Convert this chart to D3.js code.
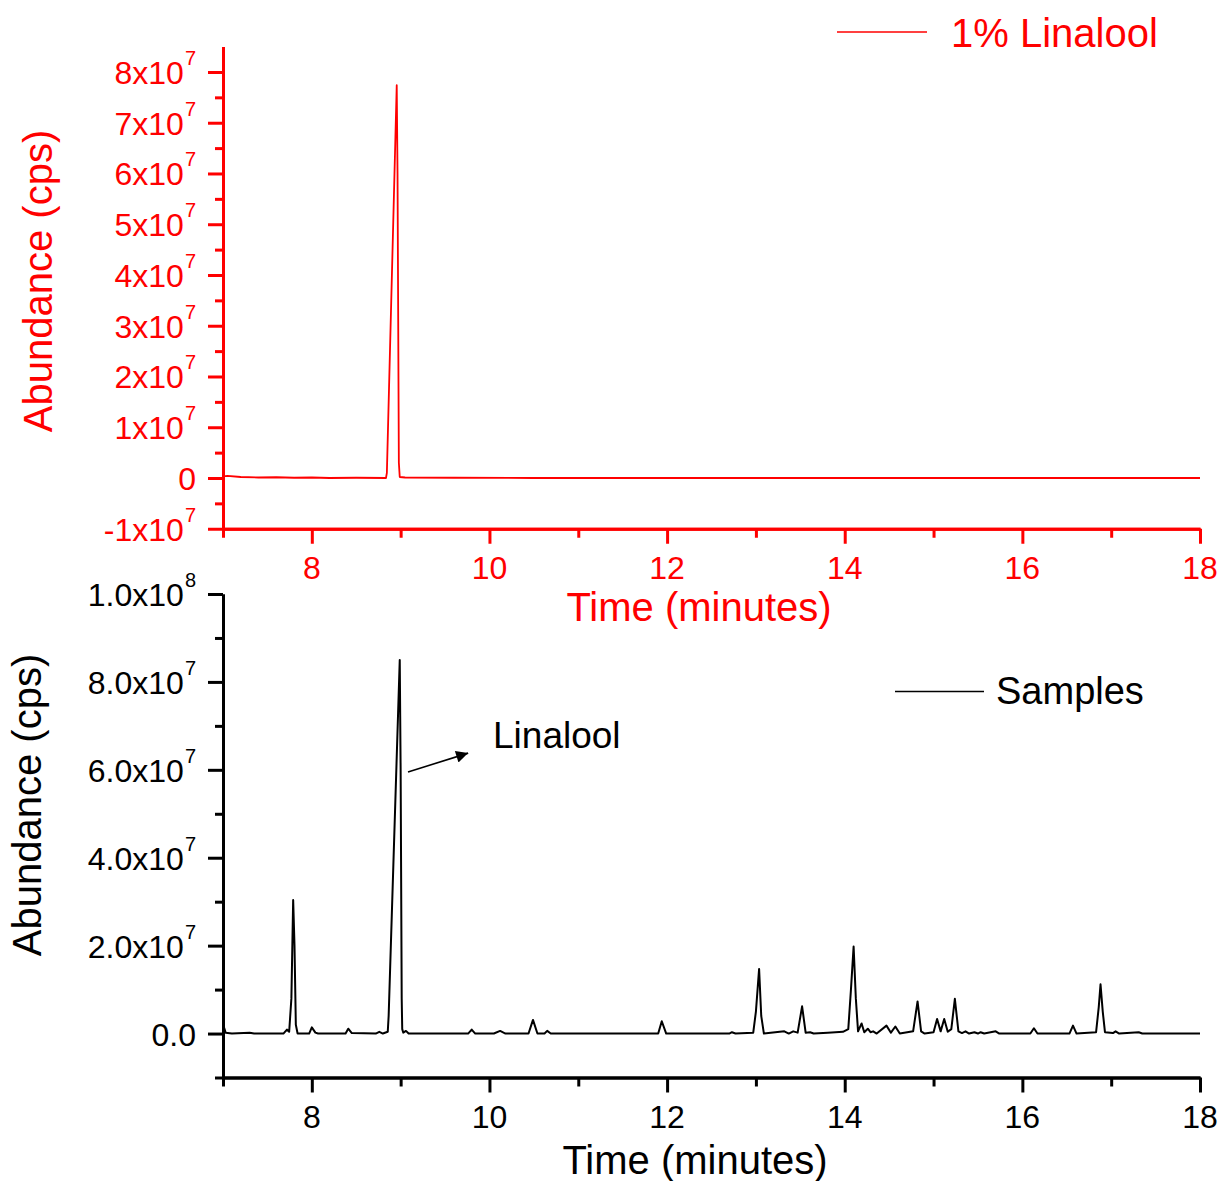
<!DOCTYPE html>
<html><head><meta charset="utf-8">
<script src="https://cdn.jsdelivr.net/npm/d3@7"></script>
<style>body{margin:0;background:#fff}</style>
</head><body><svg id="c" width="1230" height="1181"></svg>
<script>
// ---------- DATA ----------
const timeMajorTicks = [8, 10, 12, 14, 16, 18];
const timeMinorTicks = [7, 9, 11, 13, 15, 17];

// 1% Linalool standard (red, top)
const stdTime  = [7.0, 7.05, 7.2, 7.4, 7.6, 7.8, 8.0, 8.2, 8.5, 8.835, 8.845, 8.956, 8.965, 8.98, 8.99, 9.05, 9.6, 10.5, 12, 13, 14, 16, 18];
const stdAbund = [0.3e6, 0.4e6, 0.2e6, 0.1e6, 0.15e6, 0.05e6, 0.1e6, 0.0, 0.05e6, 0.0, 1.0e6, 7.74e7, 6.0e7, 3.0e6, 0.2e6, 0.1e6, 0.05e6, 0, 0, 0, 0, 0, 0];

// Samples (black, bottom)
const smpTime  = [7.0, 7.01, 7.03, 7.1, 7.3, 7.35, 7.68, 7.72, 7.745, 7.77, 7.79, 7.805, 7.82, 7.84,
  7.97, 8.0, 8.04, 8.07, 8.38, 8.41, 8.45, 8.72, 8.76, 8.80, 8.855, 8.865, 8.99, 9.0, 9.012, 9.018, 9.03, 9.06, 9.09,
  9.76, 9.80, 9.84, 10.05, 10.12, 10.18, 10.44, 10.49, 10.54, 10.62, 10.65, 10.69,
  11.9, 11.94, 11.99, 12.70, 12.73, 12.77, 12.97, 13.0, 13.036, 13.06, 13.09,
  13.32, 13.37, 13.42, 13.47, 13.52, 13.56, 13.61, 13.65, 13.81, 13.98, 14.04, 14.07, 14.10, 14.125, 14.15,
  14.19, 14.22, 14.26, 14.29, 14.32, 14.36, 14.47, 14.52, 14.57, 14.62, 14.77, 14.82, 14.86, 14.9,
  15.0, 15.04, 15.08, 15.12, 15.16, 15.2, 15.24, 15.28, 15.32, 15.36, 15.4, 15.46, 15.5, 15.53, 15.57,
  15.70, 15.74, 16.09, 16.13, 16.17, 16.53, 16.57, 16.61, 16.83, 16.86, 16.88, 16.905, 16.93,
  17.02, 17.05, 17.09, 17.31, 17.35, 18.0];
const smpAbund = [3.0e6, 1.5e6, 0.2e6, 0.0, 0.2e6, 0.0, 0.0, 0.9e6, 0.4e6, 8e6, 30.4e6, 20e6, 2e6, 0.0,
  0.0, 1.4e6, 0.2e6, 0.0, 0.0, 1.1e6, 0.1e6, 0.0, 0.4e6, 0.0, 0.4e6, 4e6, 85e6, 60e6, 8e6, 1e6, 0.2e6, 0.6e6, 0.0,
  0.0, 0.9e6, 0.0, 0.0, 0.6e6, 0.0, 0.0, 3.1e6, 0.0, 0.0, 0.6e6, 0.0,
  0.0, 2.8e6, 0.0, 0.0, 0.3e6, 0.0, 0.2e6, 5e6, 14.7e6, 4e6, 0.0,
  0.5e6, 0.0, 0.5e6, 0.2e6, 6.2e6, 0.2e6, 0.3e6, 0.0, 0.2e6, 0.4e6, 1e6, 10e6, 19.8e6, 8e6, 0.5e6,
  2.3e6, 0.3e6, 1.1e6, 0.3e6, 0.5e6, 0.0, 1.8e6, 0.2e6, 1.6e6, 0.0, 0.5e6, 7.3e6, 0.5e6, 0.0,
  0.3e6, 3.3e6, 0.5e6, 3.3e6, 0.4e6, 1e6, 7.9e6, 0.5e6, 0.1e6, 0.5e6, 0.0, 0.3e6, 0.0, 0.3e6, 0.0,
  0.5e6, 0.0, 0.0, 1.2e6, 0.0, 0.0, 1.8e6, 0.0, 0.3e6, 6e6, 11.2e6, 5e6, 0.3e6,
  0.1e6, 0.5e6, 0.0, 0.3e6, 0.0, 0.0];

const stdYMajor = [-1e7, 0, 1e7, 2e7, 3e7, 4e7, 5e7, 6e7, 7e7, 8e7];
const stdYMinor = [-5e6, 5e6, 1.5e7, 2.5e7, 3.5e7, 4.5e7, 5.5e7, 6.5e7, 7.5e7];
const stdYLabelBase = ["-1x10", "0", "1x10", "2x10", "3x10", "4x10", "5x10", "6x10", "7x10", "8x10"];
const stdYLabelExp  = ["7", "", "7", "7", "7", "7", "7", "7", "7", "7"];

const smpYMajor = [0, 2e7, 4e7, 6e7, 8e7, 1e8];
const smpYMinor = [-1e7, 1e7, 3e7, 5e7, 7e7, 9e7];
const smpYLabelBase = ["0.0", "2.0x10", "4.0x10", "6.0x10", "8.0x10", "1.0x10"];
const smpYLabelExp  = ["", "7", "7", "7", "7", "8"];

// annotation (data coordinates of the sample panel)
const arrowFrom = [9.083, 59.5e6];
const arrowTo   = [9.76, 63.8e6];
const annoText  = "Linalool";
const annoPos   = [10.04, 64.9e6];

// ---------- DRAWING ----------
const FONT = "Arial, 'Liberation Sans', sans-serif";
const svg = d3.select("#c");
const x = d3.scaleLinear().domain([7, 18]).range([223, 1200]);

function panel(o) {
  const g = svg.append("g");
  const y = d3.scaleLinear().domain(o.yDomain).range(o.yRange);
  const xAxisY = o.yRange[0];

  const xMin = g.append("g").attr("transform", `translate(0,${xAxisY})`)
    .call(d3.axisBottom(x).tickValues(timeMinorTicks).tickSize(9).tickSizeOuter(0).tickFormat(""));
  const xMaj = g.append("g").attr("transform", `translate(0,${xAxisY})`)
    .call(d3.axisBottom(x).tickValues(timeMajorTicks).tickSize(15).tickSizeOuter(0).tickFormat(""));
  const yMin = g.append("g").attr("transform", `translate(${x(7)},0)`)
    .call(d3.axisLeft(y).tickValues(o.yMinor).tickSize(8).tickSizeOuter(0).tickFormat(""));
  const yMaj = g.append("g").attr("transform", `translate(${x(7)},0)`)
    .call(d3.axisLeft(y).tickValues(o.yMajor).tickSize(15).tickSizeOuter(0).tickFormat(""));
  [xMin, xMaj, yMin, yMaj].forEach(a => {
    a.selectAll("path.domain").style("stroke", o.color).style("stroke-width", "3px");
    a.selectAll(".tick line").style("stroke", o.color).style("stroke-width", "3px");
  });

  g.append("g").selectAll("text").data(timeMajorTicks).join("text")
    .attr("x", d => x(d)).attr("y", xAxisY + 50)
    .attr("text-anchor", "middle").attr("font-family", FONT).attr("font-size", 32)
    .attr("fill", o.color).text(d => d);

  const yl = g.append("g").selectAll("text").data(o.yMajor).join("text")
    .attr("x", 196).attr("y", d => y(d) + 12)
    .attr("text-anchor", "end").attr("font-family", FONT).attr("font-size", 32)
    .attr("fill", o.color);
  yl.each(function (d, i) {
    const t = d3.select(this);
    t.append("tspan").text(o.labelBase[i]);
    if (o.labelExp[i]) t.append("tspan").attr("dy", -19).attr("dx", 1).attr("font-size", 20).text(o.labelExp[i]);
  });

  const pts = o.t.map((t, i) => [t, o.v[i]]);
  g.append("path").datum(pts)
    .attr("d", d3.line().x(d => x(d[0])).y(d => y(d[1])))
    .attr("fill", "none").attr("stroke", o.color).attr("stroke-width", o.lw)
    .attr("stroke-linejoin", "round");

  g.append("text").attr("x", o.xTitle[0]).attr("y", o.xTitle[1])
    .attr("text-anchor", "middle").attr("font-family", FONT).attr("font-size", 40)
    .attr("fill", o.color).text("Time (minutes)");
  g.append("text").attr("transform", `translate(${o.yTitle[0]},${o.yTitle[1]}) rotate(-90)`)
    .attr("text-anchor", "middle").attr("font-family", FONT).attr("font-size", 40)
    .attr("fill", o.color).text("Abundance (cps)");

  g.append("line").attr("x1", o.leg[0]).attr("x2", o.leg[1]).attr("y1", o.leg[2]).attr("y2", o.leg[2])
    .attr("stroke", o.color).attr("stroke-width", 1.6);
  g.append("text").attr("x", o.leg[3]).attr("y", o.leg[4])
    .attr("font-family", FONT).attr("font-size", o.legSize).attr("fill", o.color).text(o.legText);
  return y;
}

panel({
  color: "#ff0000", yDomain: [-1e7, 8.5e7], yRange: [528.75, 46.6],
  yMajor: stdYMajor, yMinor: stdYMinor, labelBase: stdYLabelBase, labelExp: stdYLabelExp,
  t: stdTime, v: stdAbund, lw: 1.8,
  xTitle: [699, 621], yTitle: [52, 281],
  leg: [837, 927, 32, 951, 47], legSize: 40, legText: "1% Linalool"
});

const yS = panel({
  color: "#000000", yDomain: [-1e7, 1e8], yRange: [1077.5, 594],
  yMajor: smpYMajor, yMinor: smpYMinor, labelBase: smpYLabelBase, labelExp: smpYLabelExp,
  t: smpTime, v: smpAbund, lw: 2,
  xTitle: [695, 1174], yTitle: [41, 805],
  leg: [895, 984, 691.5, 996, 704], legSize: 38, legText: "Samples"
});

svg.append("defs").append("marker").attr("id", "ah")
  .attr("viewBox", "0 0 10 10").attr("refX", 10).attr("refY", 5)
  .attr("markerWidth", 20).attr("markerHeight", 12).attr("markerUnits", "userSpaceOnUse")
  .attr("orient", "auto")
  .append("path").attr("d", "M0,0L10,5L0,10Z").attr("fill", "#000");
svg.append("line")
  .attr("x1", x(arrowFrom[0])).attr("y1", yS(arrowFrom[1]))
  .attr("x2", x(arrowTo[0])).attr("y2", yS(arrowTo[1]))
  .attr("stroke", "#000").attr("stroke-width", 1.6).attr("marker-end", "url(#ah)");
svg.append("text").attr("x", x(annoPos[0])).attr("y", yS(annoPos[1]))
  .attr("font-family", FONT).attr("font-size", 37).attr("fill", "#000").text(annoText);
</script></body></html>
